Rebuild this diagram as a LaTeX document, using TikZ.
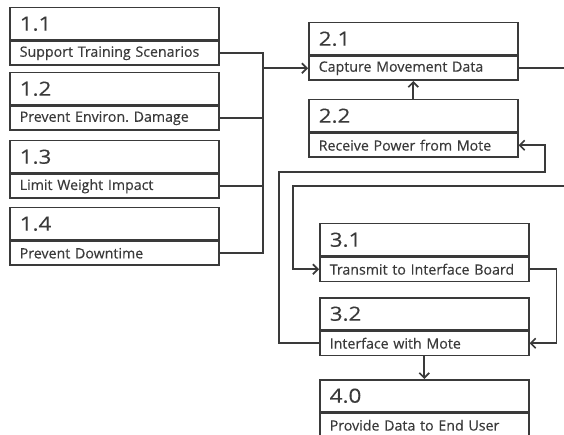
\documentclass[tikz,border=0pt]{standalone}
\usepackage{fontspec}
\setmainfont{Open Sans}
\newfontfamily\numfont[FakeStretch=1.15,FakeBold=0.3]{Open Sans}
\newfontfamily\txtfont[FakeBold=0.4]{Open Sans}
\usetikzlibrary{arrows.meta}
\definecolor{ink}{HTML}{3a3a3a}
\begin{document}
\frenchspacing
\begin{tikzpicture}[x=1pt,y=-1pt,
  boxtop/.style={draw=ink,line width=1.5pt,rectangle,anchor=north west,
    minimum width=209pt,minimum height=32pt,text width=189pt,inner xsep=10pt,
    align=left,text=ink,font=\numfont\fontsize{19.5}{19.5}\selectfont},
  boxbot/.style={draw=ink,line width=1.5pt,rectangle,anchor=north west,
    minimum width=209pt,minimum height=24pt,text width=189pt,inner xsep=10pt,
    align=left,text=ink,font=\txtfont\fontsize{14.2}{14.2}\selectfont},
  link/.style={draw=ink,line width=1.6pt},
  arr/.style={link,-{Straight Barb[length=5pt,width=10pt]}}]
\useasboundingbox (0,0) rectangle (564,435);
\clip (0,0) rectangle (564,435);

% column 1
\node[boxtop] (t11) at (9,7) {1.1};
\node[boxbot] (b11) at (t11.south west) {Support Training Scenarios};
\node[boxtop] (t12) at (9,72) {1.2};
\node[boxbot] (b12) at (t12.south west) {Prevent Environ. Damage};
\node[boxtop] (t13) at (9,140) {1.3};
\node[boxbot] (b13) at (t13.south west) {Limit Weight Impact};
\node[boxtop] (t14) at (9,207) {1.4};
\node[boxbot] (b14) at (t14.south west) {Prevent Downtime};

% column 2
\node[boxtop] (t21) at (308,22) {2.1};
\node[boxbot] (b21) at (t21.south west) {Capture Movement Data};
\node[boxtop] (t22) at (308,99) {2.2};
\node[boxbot] (b22) at (t22.south west) {Receive Power from Mote};

% column 3 and end user
\node[boxtop] (t31) at (319,223) {3.1};
\node[boxbot] (b31) at (t31.south west) {Transmit to Interface Board};
\node[boxtop] (t32) at (319,297) {3.2};
\node[boxbot] (b32) at (t32.south west) {Interface with Mote};
\node[boxtop] (t40) at (319,379) {4.0};
\node[boxbot] (b40) at (t40.south west) {Provide Data to End User};

% routing points
\coordinate (bus) at (263,0);
\coordinate (outR) at (580,0);
\coordinate (lane31) at (293,186);
\coordinate (fbL) at (279,172);
\coordinate (fbR) at (545,172);

% requirements bus into 2.1
\draw[link] (b11.east) -- (b11.east -| bus) -- (b14.east -| bus) -- (b14.east);
\draw[link] (b12.east) -- (b12.east -| bus);
\draw[link] (b13.east) -- (b13.east -| bus);
\draw[arr] (b21.west -| bus) -- (b21.west);

% 2.2 feeds 2.1
\draw[arr] (t22.north) -- (b21.south);

% 2.1 to 3.1 around the right side
\draw[arr] (b21.east) -- (b21.east -| outR) |- (lane31) |- (b31.west);

% 3.1 to 3.2
\draw[arr] (b31.east) -- ++(27,0) |- (b32.east);

% 3.2 back to 2.2
\draw[arr] (b32.west) -| (fbL) -- (fbR) |- (b22.east);

% 3.2 to 4.0
\draw[arr] (b32.south) -- (t40.north);
\end{tikzpicture}
\end{document}
